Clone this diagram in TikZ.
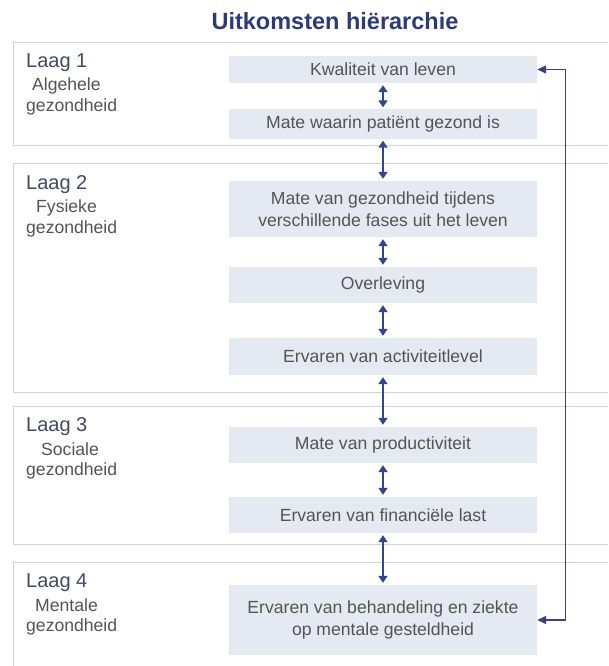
\documentclass[tikz,border=0pt]{standalone}
\usepackage{fontspec}
\setmainfont{Liberation Sans}
\usetikzlibrary{arrows.meta}

\definecolor{titleblue}{RGB}{43,58,122}
\definecolor{arrowblue}{RGB}{46,72,142}
\definecolor{retblue}{RGB}{62,62,130}
\definecolor{boxfill}{RGB}{229,233,242}
\definecolor{layerline}{RGB}{212,212,212}
\definecolor{txtgray}{RGB}{84,84,84}
\definecolor{laagcol}{RGB}{64,74,100}

\begin{document}
\begin{tikzpicture}[x=1pt, y=-1pt,
  layer/.style={draw=layerline, line width=0.9pt, fill=white},
  item/.style={fill=boxfill, minimum width=308pt, inner sep=0pt, text=txtgray,
    font=\fontsize{17.6}{22}\selectfont, align=center},
  laag/.style={anchor=west, inner sep=0pt, text=laagcol, font=\fontsize{20}{24}\selectfont},
  sub/.style={anchor=west, inner sep=0pt, text=txtgray, font=\fontsize{17.6}{22}\selectfont},
  link/.style={{Triangle[length=7pt,width=9pt]}-{Triangle[length=7pt,width=9pt]},
    draw=arrowblue, line width=1.8pt, shorten <=2pt, shorten >=2pt},
  ret/.style={{Triangle[length=9pt,width=8pt]}-{Triangle[length=9pt,width=8pt]},
    draw=retblue, line width=1.4pt}]
  \useasboundingbox (0,0) rectangle (608,666);
  \clip (0,0) rectangle (608,666);
  % title
  \node[font=\bfseries\fontsize{23.5}{28}\selectfont, text=titleblue] (title) at (335,21) {Uitkomsten hiërarchie};
  % layers
  \draw[layer] (13,42) rectangle (620,145);
  \draw[layer] (13,163) rectangle (620,392);
  \draw[layer] (13,406) rectangle (620,544);
  \draw[layer] (13,562) rectangle (620,690);
  % layer labels
  \foreach \n/\ly/\sub/\sx in {1/63/Algehele/32, 2/185/Fysieke/36, 3/427/Sociale/41, 4/583/Mentale/35}{
    \node[laag] (laag\n) at (26,\ly) {Laag \n};
    \node[sub] (sub\n) at (\sx,\ly+22.5) {\sub};
    \node[sub] (gez\n) at (26,\ly+44) {gezondheid};
  }
  % outcomes
  \node[item, minimum height=27pt] (kw) at (383,69.5) {Kwaliteit van leven};
  \node[item, minimum height=29pt] (mw) at (383,124) {Mate waarin patiënt gezond is};
  \node[item, minimum height=56pt] (mg) at (383,209) {Mate van gezondheid tijdens\\verschillende fases uit het leven};
  \node[item, minimum height=36pt] (ov) at (383,285) {Overleving};
  \node[item, minimum height=37pt] (ea) at (383,356.5) {Ervaren van activiteitlevel};
  \node[item, minimum height=36pt] (mp) at (383,445) {Mate van productiviteit};
  \node[item, minimum height=36pt] (ef) at (383,515) {Ervaren van financiële last};
  \node[item, minimum height=70pt] (eb) at (383,620) {Ervaren van behandeling en ziekte\\op mentale gesteldheid};
  % links
  \foreach \a/\b in {kw/mw, mw/mg, mg/ov, ov/ea, ea/mp, mp/ef, ef/eb}
    \draw[link] (\a) -- (\b);
  % feedback from layer 4 to layer 1
  \draw[ret] (kw.east) -- ++(28,0) |- (eb.east);
\end{tikzpicture}
\end{document}
